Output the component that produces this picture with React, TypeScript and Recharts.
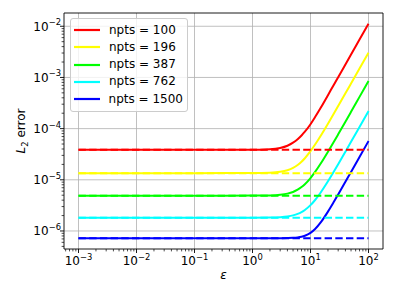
import React from 'react';
import { LineChart, Line, XAxis, YAxis, CartesianGrid, Legend, ReferenceArea } from 'recharts';

// epsilon sample points
const eps = [0.001, 0.01, 0.1, 1, 2, 3, 4, 5, 6, 7, 8, 10, 12, 15, 20, 25, 30, 40, 50, 70, 100];

// L2 error curves (solid)
const err100 = [3.85e-5, 3.85e-5, 3.85e-5, 3.86e-5, 3.95e-5, 4.19e-5, 4.63e-5, 5.31e-5, 6.2e-5, 7.35e-5, 8.7e-5, 1.22e-4, 1.68e-4, 2.55e-4, 4.5e-4, 7.06e-4, 1.012e-3, 1.794e-3, 2.8e-3, 5.49e-3, 1.12e-2];
const err196 = [1.35e-5, 1.35e-5, 1.35e-5, 1.352e-5, 1.374e-5, 1.431e-5, 1.539e-5, 1.709e-5, 1.948e-5, 2.259e-5, 2.642e-5, 3.62e-5, 4.88e-5, 7.26e-5, 1.25e-4, 1.929e-4, 2.763e-4, 4.89e-4, 7.63e-4, 1.494e-3, 3.05e-3];
const err387 = [4.9e-6, 4.9e-6, 4.9e-6, 4.91e-6, 4.96e-6, 5.1e-6, 5.37e-6, 5.79e-6, 6.4e-6, 7.21e-6, 8.21e-6, 1.083e-5, 1.424e-5, 2.076e-5, 3.53e-5, 5.41e-5, 7.73e-5, 1.366e-4, 2.13e-4, 4.17e-4, 8.5e-4];
const err762 = [1.82e-6, 1.82e-6, 1.82e-6, 1.822e-6, 1.833e-6, 1.863e-6, 1.922e-6, 2.016e-6, 2.153e-6, 2.338e-6, 2.573e-6, 3.2e-6, 4.03e-6, 5.66e-6, 9.35e-6, 1.42e-5, 2.017e-5, 3.547e-5, 5.52e-5, 1.08e-4, 2.2e-4];
const err1500 = [7.2e-7, 7.2e-7, 7.2e-7, 7.2e-7, 7.2e-7, 7.22e-7, 7.26e-7, 7.34e-7, 7.49e-7, 7.72e-7, 8.07e-7, 9.18e-7, 1.092e-6, 1.471e-6, 2.391e-6, 3.635e-6, 5.18e-6, 9.15e-6, 1.427e-5, 2.794e-5, 5.7e-5];

// flat error floors (dashed)
const floors = [3.85e-5, 1.35e-5, 4.9e-6, 1.82e-6, 7.2e-7];

const seriesNames = ['npts = 100', 'npts = 196', 'npts = 387', 'npts = 762', 'npts = 1500'];
const seriesColors = ['#ff0000', '#ffff00', '#00ff00', '#00ffff', '#0000ff'];
const seriesValues = [err100, err196, err387, err762, err1500];

const xMajor = [1e-3, 1e-2, 1e-1, 1, 10, 100];
const yMajor = [1e-6, 1e-5, 1e-4, 1e-3, 1e-2];

const xDomain = [Math.pow(10, -3.25), Math.pow(10, 2.25)];
const yDomain = [Math.pow(10, -6.352), Math.pow(10, -1.741)];

const minorTicks = (lo: number, hi: number) => {
  const out: number[] = [];
  for (let k = Math.floor(Math.log10(lo)); k <= Math.ceil(Math.log10(hi)); k++) {
    for (let m = 1; m <= 9; m++) {
      const v = m * Math.pow(10, k);
      if (v >= lo && v <= hi) out.push(v);
    }
  }
  return out;
};
const xTicks = minorTicks(xDomain[0], xDomain[1]);
const yTicks = minorTicks(yDomain[0], yDomain[1]);

const rows = eps.map((e, i) => {
  const r: any = { eps: e };
  seriesValues.forEach((s, j) => {
    r['s' + j] = s[i];
    r['f' + j] = floors[j];
  });
  return r;
});

const FONT = 'DejaVu Sans';

const isMajor = (v: number) => Math.abs(Math.log10(v) - Math.round(Math.log10(v))) < 1e-9;
const expLabel = (v: number) => {
  const e = Math.round(Math.log10(v));
  return e < 0 ? '\u2212' + Math.abs(e) : String(e);
};

const XTick = (props: any) => {
  const { x, y, payload } = props;
  const v = payload.value;
  const major = isMajor(v);
  return (
    <g>
      <line x1={x} x2={x} y1={y} y2={y + (major ? 4 : 2.4)} stroke="#000" strokeWidth={major ? 0.9 : 0.7} />
      {major && (
        <text x={x} y={y + 16} textAnchor="middle" fontSize={12} fontFamily={FONT} fill="#000">
          10<tspan dy={-5.5} fontSize={8.4}>{expLabel(v)}</tspan>
        </text>
      )}
    </g>
  );
};

const YTick = (props: any) => {
  const { x, y, payload } = props;
  const v = payload.value;
  const major = isMajor(v);
  return (
    <g>
      <line x1={x} x2={x - (major ? 4 : 2.4)} y1={y} y2={y} stroke="#000" strokeWidth={major ? 0.9 : 0.7} />
      {major && (
        <text x={x - 3} y={y + 4.5} textAnchor="end" fontSize={12} fontFamily={FONT} fill="#000">
          10<tspan dy={-5.5} fontSize={8.4}>{expLabel(v)}</tspan>
        </text>
      )}
    </g>
  );
};

const YLabel = (props: any) => {
  const vb = props.viewBox || { x: 0, y: 13, width: 64, height: 236 };
  const cx = vb.x + 25;
  const cy = vb.y + vb.height / 2;
  return (
    <text transform={`translate(${cx},${cy}) rotate(-90)`} textAnchor="middle" fontSize={12} fontFamily={FONT} fill="#000">
      <tspan fontStyle="italic">L</tspan>
      <tspan fontSize={8.4} dy={2.5}>2</tspan>
      <tspan dy={-2.5}>{'\u00a0error'}</tspan>
    </text>
  );
};

const XLabel = (props: any) => {
  const vb = props.viewBox || { x: 64, y: 249, width: 319, height: 48 };
  return (
    <text x={vb.x + vb.width / 2} y={vb.y + 30} textAnchor="middle" fontSize={12} fontFamily={FONT} fontStyle="italic" fill="#000">
      {'\u03b5'}
    </text>
  );
};

const LegendBox = (props: any) => {
  const items = (props.payload || [])
    .filter((p: any) => p.type !== 'none')
    .slice()
    .sort((a: any, b: any) => seriesNames.indexOf(a.value) - seriesNames.indexOf(b.value));
  return (
    <div
      style={{
        boxSizing: 'border-box',
        width: 118,
        padding: '2.5px 4px 3px 3px',
        border: '1px solid #cccccc',
        borderRadius: 3,
        background: 'rgba(255,255,255,0.8)',
        fontFamily: FONT,
        fontSize: 12,
        color: '#000',
      }}
    >
      {items.map((it: any, i: number) => (
        <div key={i} style={{ display: 'flex', alignItems: 'center', height: 17.3 }}>
          <svg width={26} height={4} style={{ display: 'block' }}>
            <line x1={0} x2={26} y1={2} y2={2} stroke={it.color} strokeWidth={2.2} />
          </svg>
          <span style={{ marginLeft: 9, lineHeight: '17.3px', whiteSpace: 'nowrap' }}>{it.value}</span>
        </div>
      ))}
    </div>
  );
};

export default function App() {
  return (
    <div style={{ position: 'absolute', left: 0, top: 0, width: 396, height: 297, background: '#fff' }}>
      <LineChart width={396} height={297} data={rows} margin={{ top: 13, right: 13, bottom: 0, left: 0 }}>
        <CartesianGrid stroke="#b0b0b0" strokeWidth={0.8} verticalValues={xMajor} horizontalValues={yMajor} />
        <XAxis
          dataKey="eps"
          type="number"
          scale="log"
          domain={xDomain}
          allowDataOverflow
          ticks={xTicks}
          interval={0}
          tick={<XTick />}
          tickLine={false}
          axisLine={false}
          tickSize={0}
          tickMargin={0}
          height={48}
          label={{ content: (p: any) => <XLabel {...p} /> }}
        />
        <YAxis
          type="number"
          scale="log"
          domain={yDomain}
          allowDataOverflow
          ticks={yTicks}
          interval={0}
          tick={<YTick />}
          tickLine={false}
          axisLine={false}
          tickSize={0}
          tickMargin={0}
          width={64}
          label={{ content: (p: any) => <YLabel {...p} /> }}
        />
        {seriesNames.map((n, j) => (
          <Line
            key={'s' + j}
            dataKey={'s' + j}
            name={n}
            stroke={seriesColors[j]}
            strokeWidth={2}
            type="monotone"
            dot={false}
            activeDot={false}
            isAnimationActive={false}
          />
        ))}
        {seriesNames.map((n, j) => (
          <Line
            key={'f' + j}
            dataKey={'f' + j}
            name={n + ' floor'}
            legendType="none"
            stroke={seriesColors[j]}
            strokeWidth={2}
            strokeDasharray="7.4 3.3"
            type="linear"
            dot={false}
            activeDot={false}
            isAnimationActive={false}
          />
        ))}
        <ReferenceArea
          x1={xDomain[0]}
          x2={xDomain[1]}
          y1={yDomain[0]}
          y2={yDomain[1]}
          fill="none"
          fillOpacity={0}
          stroke="#000"
          strokeWidth={0.9}
          ifOverflow="visible"
        />
        <Legend
          layout="vertical"
          align="center"
          verticalAlign="middle"
          itemSorter="dataKey"
          content={<LegendBox />}
          wrapperStyle={{ left: 70, top: 18, width: 118 }}
        />
      </LineChart>
    </div>
  );
}
